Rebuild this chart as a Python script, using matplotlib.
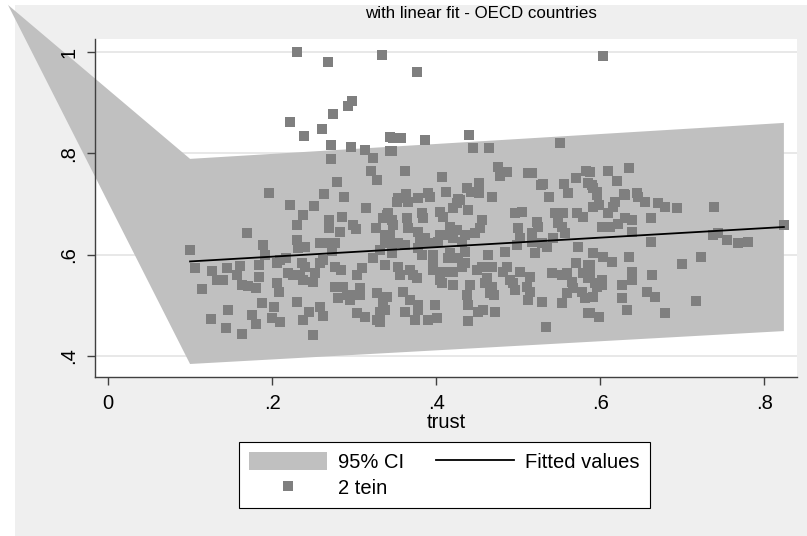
import matplotlib
matplotlib.use('Agg')
import matplotlib.pyplot as plt
from matplotlib.patches import Polygon, Rectangle, Patch

plt.rcParams['font.family'] = ['Liberation Sans', 'DejaVu Sans']

trust = [
    # upper outliers
    .230, .268, .334, .298, .293, .274, .222, .261, .239, .272,
    .296, .313, .323, .272, .321, .328, .279, .196, .263, .288,
    .344, .344,
    .377, .348, .357, .346, .387, .440, .445, .465, .551, .362,
    .407, .476, .487, .478, .512, .517, .528, .530, .556, .561,
    .570, .583, .585, .591, .438, .452, .443, .452, .412, .363,
    .354, .378, .390, .393, .427, .468, .538,
    .604, .609, .635, .621, .588, .590, .596, .629, .645,
    # left block
    .222, .251, .315, .238, .230, .270, .285, .270, .283, .299,
    .302, .327, .335, .340, .338, .170, .100, .189, .191, .230,
    .232, .240, .259, .268, .277, .273, .332, .323, .338, .106,
    .127, .133, .140, .145, .161, .157, .163, .171, .180, .184,
    .184, .206, .210, .217, .237, .240, .220, .226, .234, .238,
    .206, .209, .250, .252, .259, .262, .277, .284, .310, .304,
    .277, .287, .280, .291, .295, .307, .307, .299, .328, .335,
    .332, .338, .115, .188, .202, .230, .259, .262, .245, .238,
    .146, .126, .144, .163, .176, .180, .200, .210, .250, .313,
    .304, .328, .332,
    # middle block
    .352, .366, .378, .341, .346, .348, .365, .366, .383, .384,
    .405, .409, .421, .426, .429, .439, .456, .454, .417, .426,
    .435, .413, .405, .402, .420, .432, .448, .378, .387, .380,
    .390, .344, .341, .354, .362, .346, .378, .383, .396, .417,
    .415, .427, .435, .463, .484, .496, .505, .523, .524, .517,
    .545, .555, .549, .554, .572, .579, .500, .502, .499, .517,
    .521, .529, .535, .543, .557, .573, .591, .338, .354, .356,
    .368, .372, .377, .396, .396, .409, .405, .420, .432, .435,
    .421, .407, .441, .450, .456, .468, .460, .462, .468, .466,
    .470, .482, .487, .490, .494, .496, .502, .515, .511, .515,
    .512, .529, .541, .554, .560, .566, .567, .560, .554, .570,
    .579, .585, .585, .578, .582, .591, .340, .360, .368, .378,
    .378, .362, .374, .390, .399, .401, .438, .439, .451, .457,
    .472, .439, .534, .585,
    # right block
    .596, .598, .609, .616, .618, .630, .646, .655, .670, .679,
    .694, .739, .662, .602, .612, .622, .630, .639, .639, .662,
    .737, .744, .755, .768, .780, .824, .591, .604, .615, .635,
    .588, .588, .594, .602, .602, .596, .639, .639, .627, .627,
    .633, .663, .657, .667, .700, .723, .717, .679, .588, .598,
]
tein = [
    1.000, .980, .994, .903, .893, .878, .862, .848, .834, .816,
    .812, .806, .791, .789, .765, .747, .743, .722, .720, .714,
    .832, .805,
    .961, .830, .830, .805, .826, .836, .810, .810, .820, .765,
    .753, .773, .763, .755, .761, .761, .737, .739, .739, .722,
    .751, .765, .741, .732, .732, .741, .724, .722, .724, .720,
    .712, .712, .722, .714, .710, .714, .714,
    .992, .765, .771, .745, .763, .737, .724, .720, .722,
    .698, .696, .692, .678, .658, .668, .674, .653, .645, .658,
    .651, .653, .672, .678, .639, .643, .609, .619, .599, .629,
    .613, .615, .623, .623, .623, .607, .609, .593, .625, .574,
    .568, .550, .550, .574, .577, .560, .540, .538, .534, .579,
    .556, .583, .589, .593, .583, .575, .564, .560, .560, .550,
    .544, .526, .546, .564, .583, .589, .575, .570, .574, .560,
    .536, .536, .514, .520, .510, .520, .534, .520, .524, .506,
    .487, .491, .532, .504, .497, .506, .497, .479, .487, .471,
    .491, .473, .455, .443, .481, .463, .475, .467, .441, .477,
    .485, .471, .467,
    .704, .704, .712, .682, .668, .658, .672, .653, .682, .672,
    .684, .674, .692, .702, .708, .688, .668, .653, .654, .649,
    .639, .639, .639, .625, .633, .625, .643, .645, .633, .625,
    .623, .639, .623, .623, .619, .603, .613, .599, .599, .603,
    .593, .593, .605, .599, .605, .682, .684, .664, .654, .643,
    .682, .682, .662, .654, .682, .674, .653, .633, .619, .625,
    .603, .623, .615, .633, .643, .615, .694, .579, .575, .560,
    .570, .560, .554, .583, .570, .566, .550, .566, .575, .583,
    .540, .544, .540, .570, .575, .575, .544, .554, .536, .524,
    .520, .566, .575, .550, .544, .530, .566, .556, .536, .526,
    .510, .506, .564, .560, .564, .546, .534, .524, .504, .583,
    .564, .579, .554, .526, .514, .516, .516, .526, .510, .500,
    .491, .487, .471, .471, .500, .475, .520, .500, .487, .491,
    .487, .469, .457, .485,
    .718, .698, .682, .694, .704, .718, .714, .704, .702, .694,
    .692, .694, .672, .654, .654, .660, .672, .668, .645, .625,
    .639, .643, .629, .623, .625, .658, .603, .595, .585, .595,
    .579, .560, .544, .550, .540, .536, .566, .550, .540, .514,
    .491, .560, .526, .516, .581, .595, .508, .485, .485, .477,
]

# linear fit and its 95% band
fit_x = [0.100, 0.824]
fit_y = [0.5865, 0.6545]
ci_lo = [0.384, 0.449]
ci_hi = [0.789, 0.860]
stray = (-0.122, 1.093)  # odd extra vertex of the CI area

xticks = [0, .2, .4, .6, .8]
xticklabels = ['0', '.2', '.4', '.6', '.8']
yticks = [.4, .6, .8, 1]
yticklabels = ['.4', '.6', '.8', '1']

fig = plt.figure(figsize=(8.07, 5.36), dpi=100, facecolor='white')
fig.patches.append(Rectangle((15 / 807, 0), 1, 531 / 536, transform=fig.transFigure,
                             facecolor='#efefef', edgecolor='none', zorder=-10))

ax = fig.add_axes([95 / 807, 159 / 536, 702 / 807, 338 / 536])
ax.set_xlim(-0.0159, 0.840)
ax.set_ylim(0.3583, 1.0257)

# grid under the band, axis text above it
for y in yticks:
    ax.axhline(y, color='#e6e6e6', lw=1.3, zorder=0.5)

band = [stray, (fit_x[0], ci_hi[0]), (fit_x[1], ci_hi[1]),
        (fit_x[1], ci_lo[1]), (fit_x[0], ci_lo[0])]
ax.add_patch(Polygon(band, closed=True, facecolor='#c0c0c0', edgecolor='none',
                     zorder=1, clip_on=False))

pts, = ax.plot(trust, tein, 's', color='#7f7f7f', ms=7, mew=0, zorder=2)
fit, = ax.plot(fit_x, fit_y, color='black', lw=1.3, zorder=3)

for s in ['top', 'right']:
    ax.spines[s].set_visible(False)
for s in ['left', 'bottom']:
    ax.spines[s].set_color('#404040')
    ax.spines[s].set_linewidth(1)

ax.set_xticks(xticks)
ax.set_xticklabels(xticklabels)
ax.set_yticks(yticks)
ax.set_yticklabels(yticklabels, rotation=90, va='center')
ax.tick_params(axis='both', direction='out', length=6, width=1, color='#404040',
               labelsize=14.5, pad=6)
ax.set_xlabel('trust', fontsize=14.5, labelpad=0)

fig.text(481 / 807, 1 - 13 / 536, 'with linear fit - OECD countries',
         ha='center', va='center', fontsize=12.2)

leg = fig.legend([Patch(facecolor='#c0c0c0', edgecolor='none'), pts, fit],
                 ['95% CI', '2 tein', 'Fitted values'],
                 loc='center', bbox_to_anchor=(444.5 / 807, 1 - 475 / 536), ncol=2,
                 fancybox=False, edgecolor='black', framealpha=1, fontsize=14.5,
                 handlelength=3.85, handleheight=1.05, handletextpad=0.55,
                 columnspacing=1.6, borderpad=0.5, labelspacing=0.3)
leg.get_frame().set_linewidth(0.8)

fig.savefig('out.png', dpi=100, facecolor=fig.get_facecolor())
